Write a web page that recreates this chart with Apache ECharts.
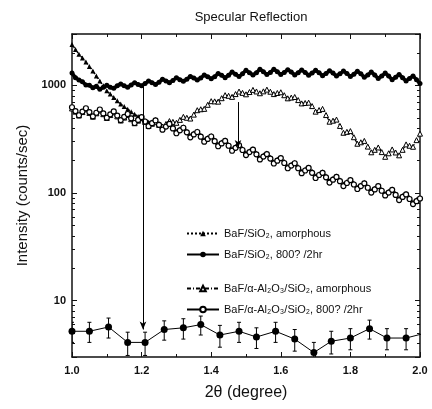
<!DOCTYPE html>
<html>
<head>
    <meta charset="utf-8">
    <script src="https://cdn.jsdelivr.net/npm/echarts@6/dist/echarts.min.js"></script>
    <style>
        body { margin: 0; background: #fff; }
        #main { width: 432px; height: 409px; }
    </style>
</head>
<body>
    <div id="main"></div>
    <script>
        // 2theta sampling, every 0.01 degree from 1.00 to 2.00
        var angles = [];
        for (var i = 0; i <= 100; i++) angles.push(+(1 + i * 0.01).toFixed(2));

        // BaF/SiO2, amorphous  (filled triangles)
        var bafAmorph = [
            2400, 2150, 1950, 1800, 1650, 1500, 1360, 1220, 1100, 990,
            890, 830, 770, 720, 670, 635, 600, 570, 540, 515,
            490, 470, 455, 460, 483, 443, 404, 426, 447, 410,
            374, 393, 412, 377, 343, 361, 377, 344, 312, 328,
            342, 312, 284, 298, 311, 283, 258, 271, 283, 259,
            235, 247, 258, 236, 214, 225, 235, 215, 195, 206,
            215, 196, 177, 185, 193, 175, 159, 167, 174, 159,
            144, 151, 158, 144, 130, 137, 144, 133, 121, 128,
            134, 124, 113, 119, 126, 115, 105, 111, 118, 108,
            99, 104, 109, 99, 90, 95, 99, 91, 82, 87,
            90
        ];
        // BaF/SiO2, 800?/2hr  (filled circles)
        var baf800 = [
            1300, 1180, 1120, 1080, 1010, 1000, 950, 980, 920, 960,
            1000, 960, 940, 990, 1030, 990, 960, 1010, 1060, 1020,
            990, 1040, 1100, 1060, 1020, 1070, 1140, 1100, 1060, 1110,
            1180, 1130, 1090, 1140, 1210, 1170, 1120, 1170, 1250, 1200,
            1150, 1200, 1290, 1240, 1180, 1240, 1330, 1270, 1210, 1280,
            1380, 1310, 1250, 1310, 1410, 1340, 1260, 1320, 1410, 1340,
            1260, 1320, 1400, 1330, 1250, 1310, 1390, 1320, 1240, 1300,
            1380, 1310, 1230, 1290, 1370, 1300, 1220, 1280, 1360, 1290,
            1210, 1270, 1350, 1280, 1190, 1250, 1330, 1250, 1160, 1220,
            1300, 1220, 1130, 1190, 1260, 1180, 1100, 1160, 1220, 1130,
            1040
        ];
        // BaF/a-Al2O3/SiO2, amorphous  (open triangles)
        var alAmorph = [
            610, 570, 525, 565, 600, 555, 512, 550, 585, 540,
            498, 530, 562, 515, 472, 502, 530, 485, 445, 470,
            498, 458, 420, 440, 455, 430, 415, 438, 466, 458,
            449, 478, 510, 500, 492, 535, 588, 600, 605, 660,
            713, 710, 706, 760, 811, 800, 782, 830, 876, 852,
            826, 867, 908, 878, 845, 880, 913, 873, 830, 850,
            863, 810, 758, 770, 780, 730, 680, 686, 691, 642,
            570, 590, 605, 530, 460, 470, 481, 420, 363, 370,
            376, 330, 287, 296, 305, 270, 239, 252, 265, 240,
            217, 234, 254, 238, 224, 252, 283, 275, 269, 310,
            356
        ];
        // BaF/a-Al2O3/SiO2, 800?/2hr  (open circles)
        var al800 = [
            626, 577, 528, 571, 613, 565, 516, 557, 597, 549,
            501, 538, 573, 524, 476, 510, 542, 494, 447, 478,
            508, 462, 418, 446, 473, 430, 388, 414, 438, 398,
            359, 382, 404, 366, 329, 350, 369, 334, 300, 318,
            335, 303, 272, 289, 305, 275, 247, 263, 278, 251,
            225, 240, 253, 229, 205, 218, 230, 209, 188, 200,
            211, 190, 170, 180, 189, 170, 153, 162, 171, 154,
            138, 147, 154, 140, 125, 133, 141, 129, 116, 124,
            132, 120, 109, 116, 123, 112, 101, 108, 116, 105,
            95, 101, 107, 96, 86, 92, 97, 88, 79, 84,
            89
        ];

        // background scan with error bars
        var bgAngles = [1.0, 1.05, 1.105, 1.16, 1.21, 1.265, 1.32, 1.37, 1.425, 1.48,
                        1.53, 1.585, 1.64, 1.695, 1.745, 1.80, 1.855, 1.905, 1.96, 2.015];
        var bgCounts = [5.2, 5.2, 5.7, 4.1, 4.1, 5.4, 5.6, 6.0, 4.8, 5.2,
                        4.6, 5.2, 4.4, 3.3, 4.2, 4.5, 5.5, 4.5, 4.5, 5.0];
        var bgErr = [1.1, 1.1, 1.2, 1.0, 1.0, 1.1, 1.2, 1.2, 1.1, 1.1,
                     1.0, 1.1, 1.0, 0.8, 1.0, 1.0, 1.1, 1.0, 1.0, 1.0];

        // arrows: [angle, from, to]
        var arrows = [[1.204, 1000, 5.4], [1.477, 700, 262]];

        var names = ['BaF/SiO₂, amorphous', 'BaF/SiO₂, 800? /2hr',
                     'BaF/α-Al₂O₃/SiO₂, amorphous', 'BaF/α-Al₂O₃/SiO₂, 800? /2hr'];

        function pairs(ys) {
            return angles.map(function (a, k) { return [a, ys[k]]; });
        }

        var font = 'Liberation Sans';
        var ink = '#111';

        var chart = echarts.init(document.getElementById('main'));

        var xCommon = {
            type: 'value', min: 1, max: 2, interval: 0.2,
            axisLine: { lineStyle: { color: ink, width: 1.5 } },
            axisTick: { inside: true, length: 5, lineStyle: { color: ink } },
            minorTick: { show: true, splitNumber: 2, length: 3, lineStyle: { color: ink } },
            splitLine: { show: false }
        };
        var yCommon = {
            type: 'log', logBase: 10, min: 3, max: 3000,
            axisLine: { show: true, lineStyle: { color: ink, width: 1.5 } },
            axisTick: { show: true, inside: true, length: 5, lineStyle: { color: ink } },
            minorTick: { show: true, splitNumber: 9, length: 3, lineStyle: { color: ink } },
            splitLine: { show: false }
        };

        chart.setOption({
            backgroundColor: '#fff',
            animation: false,
            title: {
                text: 'Specular Reflection',
                left: 246, top: 6, textAlign: 'center',
                textStyle: { fontFamily: font, fontSize: 13, fontWeight: 'normal', color: ink }
            },
            grid: { left: 72, right: 12, top: 34, bottom: 52 },
            legend: [{
                data: names.slice(0, 2),
                orient: 'vertical', left: 181, top: 223,
                itemWidth: 32, itemHeight: 7, itemGap: 10,
                textStyle: { fontFamily: font, fontSize: 11, color: ink }
            }, {
                data: names.slice(2),
                orient: 'vertical', left: 181, top: 278,
                itemWidth: 32, itemHeight: 7, itemGap: 10,
                textStyle: { fontFamily: font, fontSize: 11, color: ink }
            }],
            xAxis: [
                Object.assign({}, xCommon, {
                    position: 'bottom',
                    name: '2θ (degree)', nameLocation: 'middle', nameGap: 28,
                    nameTextStyle: { fontFamily: font, fontSize: 16, color: ink },
                    axisLabel: {
                        fontFamily: font, fontSize: 11, fontWeight: 'bold', color: ink, margin: 8,
                        formatter: function (v) { return v.toFixed(1); }
                    }
                }),
                Object.assign({}, xCommon, { position: 'top', axisLabel: { show: false } })
            ],
            yAxis: [
                Object.assign({}, yCommon, {
                    position: 'left',
                    name: 'Intensity (counts/sec)', nameLocation: 'middle', nameGap: 42,
                    nameTextStyle: { fontFamily: font, fontSize: 15, color: ink },
                    axisLabel: {
                        fontFamily: font, fontSize: 11, fontWeight: 'bold', color: ink, margin: 6,
                        showMinLabel: false, showMaxLabel: false,
                        formatter: function (v) { return String(Math.round(v)); }
                    }
                }),
                Object.assign({}, yCommon, { position: 'right', axisLabel: { show: false } })
            ],
            series: [{
                name: names[0], type: 'line', data: pairs(bafAmorph),
                symbol: 'triangle', symbolSize: 5, showAllSymbol: true,
                itemStyle: { color: '#000' },
                lineStyle: { color: '#000', width: 1.5, type: 'dotted' }
            }, {
                name: names[1], type: 'line', data: pairs(baf800),
                symbol: 'circle', symbolSize: 5, showAllSymbol: true,
                itemStyle: { color: '#000' },
                lineStyle: { color: '#000', width: 3.5 },
                markLine: {
                    silent: true, symbol: ['none', 'arrow'], symbolSize: [5, 8],
                    label: { show: false },
                    lineStyle: { color: '#000', width: 1, type: 'solid' },
                    data: arrows.map(function (a) {
                        return [{ coord: [a[0], a[1]] }, { coord: [a[0], a[2]] }];
                    })
                }
            }, {
                name: names[2], type: 'line', data: pairs(alAmorph),
                symbol: 'triangle', symbolSize: 5, showAllSymbol: true,
                itemStyle: { color: '#fff', borderColor: '#000', borderWidth: 1 },
                lineStyle: { color: '#000', width: 1.2, type: [4, 2, 1, 2] }
            }, {
                name: names[3], type: 'line', data: pairs(al800),
                symbol: 'circle', symbolSize: 5, showAllSymbol: true,
                itemStyle: { color: '#fff', borderColor: '#000', borderWidth: 1.2 },
                lineStyle: { color: '#000', width: 2.5 }
            }, {
                name: 'background', type: 'line',
                data: bgAngles.map(function (a, k) { return [a, bgCounts[k]]; }),
                symbol: 'circle', symbolSize: 7,
                itemStyle: { color: '#000' },
                lineStyle: { color: '#000', width: 1 }
            }, {
                name: 'errors', type: 'custom', clip: true,
                data: bgAngles.map(function (a, k) { return [a, bgCounts[k], bgErr[k]]; }),
                encode: { x: 0, y: 1 },
                renderItem: function (params, api) {
                    var x = api.value(0), y = api.value(1), e = api.value(2);
                    var hi = api.coord([x, y + e]);
                    var lo = api.coord([x, y - e]);
                    var st = { stroke: '#000', lineWidth: 1 };
                    return {
                        type: 'group',
                        children: [
                            { type: 'line', shape: { x1: hi[0], y1: hi[1], x2: lo[0], y2: lo[1] }, style: st },
                            { type: 'line', shape: { x1: hi[0] - 2, y1: hi[1], x2: hi[0] + 2, y2: hi[1] }, style: st },
                            { type: 'line', shape: { x1: lo[0] - 2, y1: lo[1], x2: lo[0] + 2, y2: lo[1] }, style: st }
                        ]
                    };
                }
            }]
        });
    </script>
</body>
</html>
